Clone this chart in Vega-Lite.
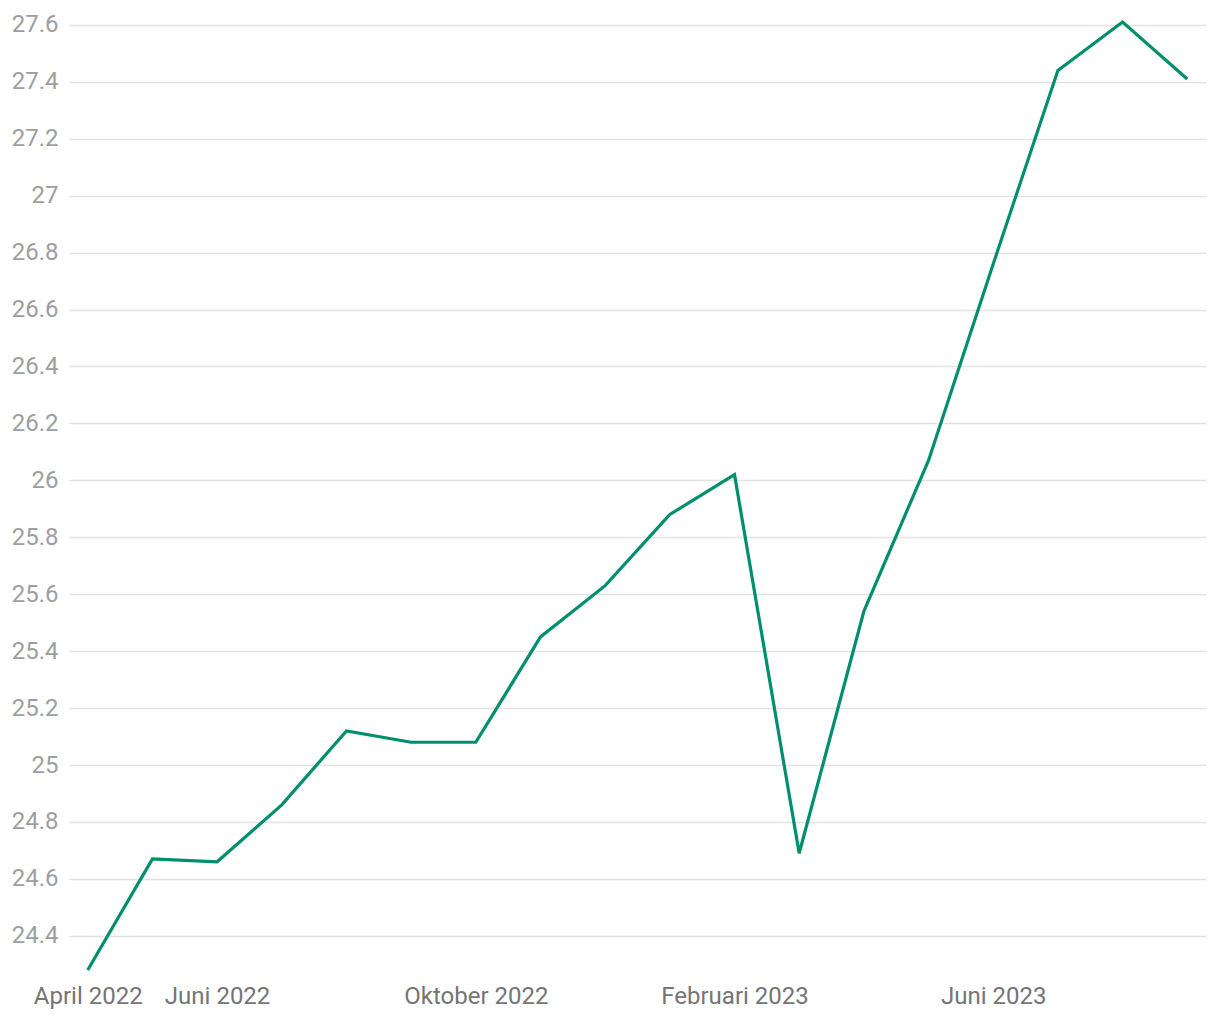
{
  "$schema": "https://vega.github.io/schema/vega-lite/v6.json",
  "width": 1137,
  "height": 948,
  "autosize": {"type": "none"},
  "padding": {"left": 69, "top": 22, "right": 14, "bottom": 50},
  "background": "white",
  "config": {
    "view": {"stroke": null},
    "font": "Roboto"
  },
  "data": {
    "values": [
      {"maand": "April 2022", "waarde": 24.28},
      {"maand": "Mei 2022", "waarde": 24.67},
      {"maand": "Juni 2022", "waarde": 24.66},
      {"maand": "Juli 2022", "waarde": 24.86},
      {"maand": "Augustus 2022", "waarde": 25.12},
      {"maand": "September 2022", "waarde": 25.08},
      {"maand": "Oktober 2022", "waarde": 25.08},
      {"maand": "November 2022", "waarde": 25.45},
      {"maand": "December 2022", "waarde": 25.63},
      {"maand": "Januari 2023", "waarde": 25.88},
      {"maand": "Februari 2023", "waarde": 26.02},
      {"maand": "Maart 2023", "waarde": 24.69},
      {"maand": "April 2023", "waarde": 25.54},
      {"maand": "Mei 2023", "waarde": 26.07},
      {"maand": "Juni 2023", "waarde": 26.76},
      {"maand": "Juli 2023", "waarde": 27.44},
      {"maand": "Augustus 2023", "waarde": 27.61},
      {"maand": "September 2023", "waarde": 27.41}
    ]
  },
  "mark": {"type": "line", "color": "#008f6e", "strokeWidth": 3.2, "strokeJoin": "miter"},
  "encoding": {
    "x": {
      "field": "maand",
      "type": "ordinal",
      "sort": null,
      "scale": {"type": "point", "padding": 0.29},
      "axis": {
        "title": null,
        "values": ["April 2022", "Juni 2022", "Oktober 2022", "Februari 2023", "Juni 2023"],
        "labelAngle": 0,
        "ticks": false,
        "domain": false,
        "grid": false,
        "labelFontSize": 24,
        "labelColor": "#757575",
        "labelPadding": 14,
        "labelFont": "Roboto"
      }
    },
    "y": {
      "field": "waarde",
      "type": "quantitative",
      "scale": {"domain": [24.28, 27.61], "nice": false, "zero": false},
      "axis": {
        "title": null,
        "values": [24.4, 24.6, 24.8, 25, 25.2, 25.4, 25.6, 25.8, 26, 26.2, 26.4, 26.6, 26.8, 27, 27.2, 27.4, 27.6],
        "format": "~r",
        "ticks": false,
        "domain": false,
        "grid": true,
        "gridColor": "#e3e3e3",
        "gridWidth": 1.5,
        "labelFontSize": 24,
        "labelColor": "#9e9e9e",
        "labelPadding": 11,
        "labelFont": "Roboto"
      }
    }
  }
}
